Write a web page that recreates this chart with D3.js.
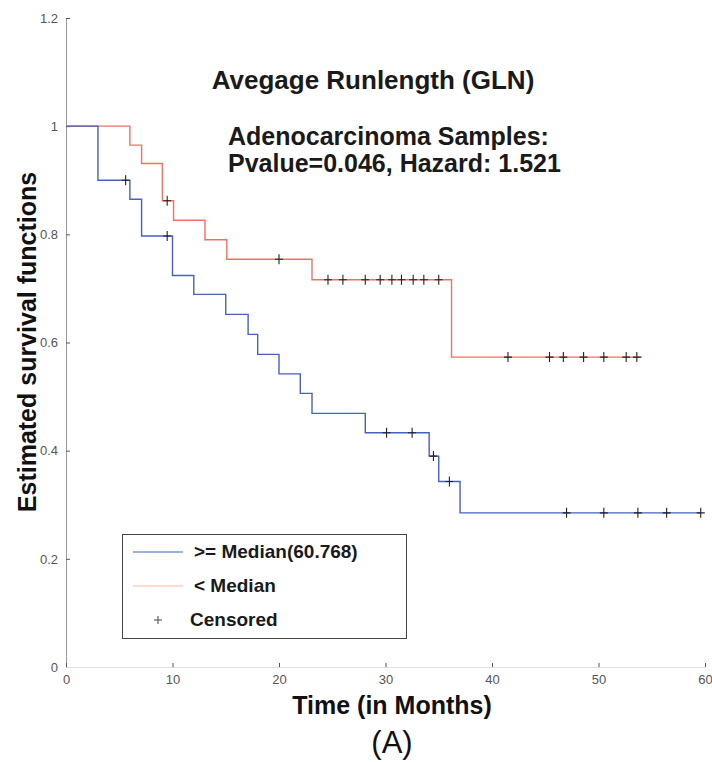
<!DOCTYPE html>
<html>
<head>
<meta charset="utf-8">
<script src="https://cdn.jsdelivr.net/npm/d3@7"></script>
<style>
  body { margin: 0; background: #fff; }
  svg { font-family: "Liberation Sans", Arial, sans-serif; }
</style>
</head>
<body>
<div id="chart"></div>
<script>
// >= Median group: step times and survival after each step
const highTimes = [0, 3, 6, 7.1, 10, 12, 15, 17.1, 18, 20, 22, 23.1, 28.1, 34.1, 35, 37];
const highSurv = [1, 0.9, 0.865, 0.797, 0.724, 0.689, 0.652, 0.615, 0.578, 0.542, 0.506, 0.469, 0.433, 0.39, 0.343, 0.285];
const highEnd = 59.6;
const highCensored = [5.6, 9.5, 30.1, 32.5, 34.5, 36, 47, 50.5, 53.7, 56.4, 59.6];

// < Median group
const lowTimes = [0, 6, 7.1, 9.05, 10.1, 13.05, 15.1, 23.1, 36.2];
const lowSurv = [1, 0.965, 0.931, 0.862, 0.826, 0.79, 0.754, 0.716, 0.573];
const lowEnd = 54.1;
const lowCensored = [9.5, 20, 24.6, 26, 28.1, 29.5, 30.6, 31.5, 32.6, 33.6, 35, 41.5, 45.4, 46.7, 48.6, 50.5, 52.6, 53.6];

const xTicks = [0, 10, 20, 30, 40, 50, 60];
const yTicks = [0, 0.2, 0.4, 0.6, 0.8, 1, 1.2];

const width = 712;
const height = 762;

const xScale = d3.scaleLinear().domain([0, 60]).range([66, 705]);
const yScale = d3.scaleLinear().domain([0, 1.2]).range([667, 18]);

const svg = d3.select('#chart')
              .append('svg')
                .attr('width', width)
                .attr('height', height);

// axes (ticks point inward)
const yAxis = svg.append('g')
                 .attr('transform', 'translate(66, 0)')
                 .call(d3.axisLeft(yScale).tickValues(yTicks).tickSize(-4).tickPadding(8).tickFormat(d3.format('~g')));
const xAxis = svg.append('g')
                 .attr('transform', 'translate(0, 667)')
                 .call(d3.axisBottom(xScale).tickValues(xTicks).tickSize(-4).tickPadding(8));

[yAxis, xAxis].forEach(function(ax) {
    ax.select('.domain').attr('stroke', '#999');
    ax.selectAll('.tick line').attr('stroke', '#555');
    ax.selectAll('.tick text').attr('fill', '#555').attr('font-size', 13).attr('font-family', '"Liberation Sans", Arial, sans-serif');
});
xAxis.select('.domain').attr('stroke', '#ddd');

// step curves
function stepPoints(times, surv, end) {
    const pts = times.map((t, i) => [t, surv[i]]);
    pts.push([end, surv[surv.length - 1]]);
    return pts;
}

function survAt(times, surv, t) {
    let s = surv[0];
    times.forEach((ti, i) => { if (ti <= t) s = surv[i]; });
    return s;
}

const line = d3.line()
               .x(d => xScale(d[0]))
               .y(d => yScale(d[1]))
               .curve(d3.curveStepAfter);

const groups = [
    {times: lowTimes, surv: lowSurv, end: lowEnd, cens: lowCensored, colour: '#f2705f'},
    {times: highTimes, surv: highSurv, end: highEnd, cens: highCensored, colour: '#4561c2'}
];

groups.forEach(function(g) {
    svg.append('path')
       .attr('d', line(stepPoints(g.times, g.surv, g.end)))
       .attr('fill', 'none')
       .attr('stroke', g.colour)
       .attr('stroke-width', 1.4);
});

groups.forEach(function(g) {
    svg.append('g')
       .selectAll('path')
       .data(g.cens)
       .enter()
         .append('path')
           .attr('d', function(t) {
               const cx = xScale(t);
               const cy = yScale(survAt(g.times, g.surv, t));
               return `M${cx - 4},${cy}H${cx + 4}M${cx},${cy - 5}V${cy + 5}`;
           })
           .attr('stroke', '#222')
           .attr('stroke-width', 1.1);
});

// titles
svg.append('text')
   .attr('x', 373)
   .attr('y', 89)
   .attr('text-anchor', 'middle')
   .attr('font-weight', 'bold')
   .attr('font-size', 26)
   .attr('fill', '#1a1a1a')
   .text('Avegage Runlength (GLN)');

svg.append('text')
   .attr('x', 228)
   .attr('y', 145)
   .attr('font-weight', 'bold')
   .attr('font-size', 25)
   .attr('fill', '#1a1a1a')
   .text('Adenocarcinoma Samples:');

svg.append('text')
   .attr('x', 228)
   .attr('y', 172)
   .attr('font-weight', 'bold')
   .attr('font-size', 25)
   .attr('fill', '#1a1a1a')
   .text('Pvalue=0.046, Hazard: 1.521');

// axis labels
svg.append('text')
   .attr('transform', 'translate(36, 342) rotate(-90)')
   .attr('text-anchor', 'middle')
   .attr('font-weight', 'bold')
   .attr('font-size', 25)
   .attr('fill', '#111')
   .text('Estimated survival functions');

svg.append('text')
   .attr('x', 392)
   .attr('y', 714)
   .attr('text-anchor', 'middle')
   .attr('font-weight', 'bold')
   .attr('font-size', 25)
   .attr('fill', '#111')
   .text('Time (in Months)');

svg.append('text')
   .attr('x', 392)
   .attr('y', 753)
   .attr('text-anchor', 'middle')
   .attr('font-size', 31)
   .attr('fill', '#111')
   .text('(A)');

// legend
const legend = svg.append('g');
legend.append('rect')
      .attr('x', 122.5)
      .attr('y', 534.5)
      .attr('width', 284)
      .attr('height', 104)
      .attr('fill', '#fff')
      .attr('stroke', '#444');

const legendItems = [
    {label: '>= Median(60.768)', colour: '#4561c2'},
    {label: '< Median', colour: '#f7b8a8'},
    {label: 'Censored', colour: null}
];

legendItems.forEach(function(item, i) {
    const ly = 552 + i * 34;
    if (item.colour) {
        legend.append('line')
              .attr('x1', 133).attr('x2', 183)
              .attr('y1', ly).attr('y2', ly)
              .attr('stroke', item.colour)
              .attr('stroke-width', 1.2);
    } else {
        legend.append('path')
              .attr('d', `M154,${ly}H162M158,${ly - 4}V${ly + 4}`)
              .attr('stroke', '#444')
              .attr('stroke-width', 1);
    }
    legend.append('text')
          .attr('x', i == 2 ? 190 : 194)
          .attr('y', ly + 6)
          .attr('font-weight', 'bold')
          .attr('font-size', 19)
          .attr('fill', '#1a1a1a')
          .text(item.label);
});
</script>
</body>
</html>
